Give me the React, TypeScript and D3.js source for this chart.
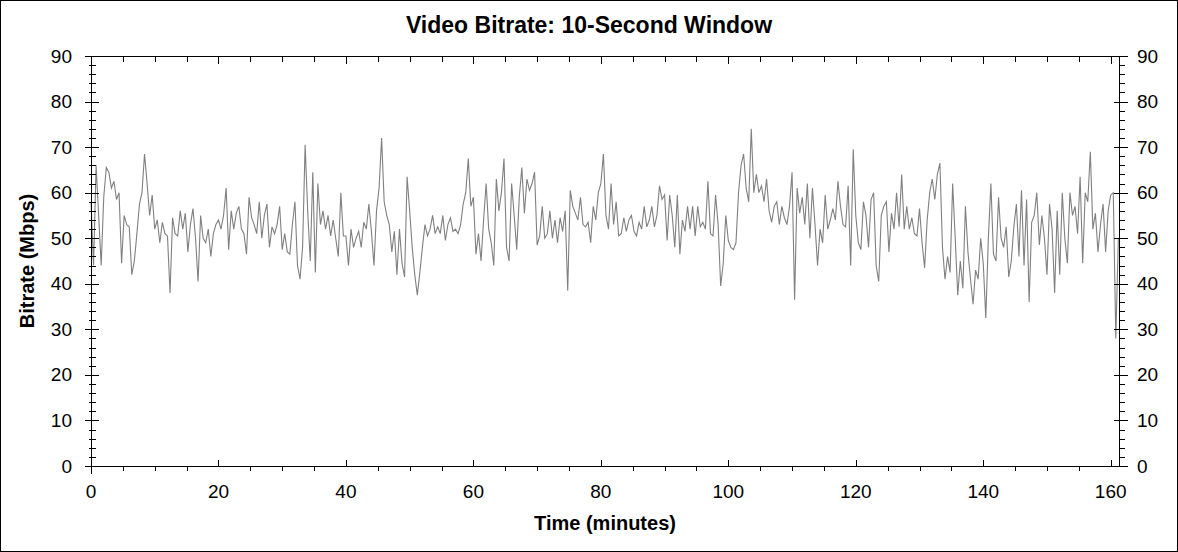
import React, { useEffect, useRef } from "react";
import * as d3 from "d3";

const chartTitle = "Video Bitrate: 10-Second Window";
const xAxisLabel = "Time (minutes)";
const yAxisLabel = "Bitrate (Mbps)";

const xTickLabels = [0, 20, 40, 60, 80, 100, 120, 140, 160];
const yTickLabels = [0, 10, 20, 30, 40, 50, 60, 70, 80, 90];

// one reading every 0.4 min in 20-minute blocks
const sampleStep = 0.4;
const bitrate0 = [58, 44, 66, 55, 44, 59, 65.5, 64.5, 61, 62.5, 58.5, 60, 44.5, 55, 53, 52.5, 42, 45, 51, 57.5, 60, 68.5, 62, 55, 59.5, 52, 54, 49, 53.5, 51, 50.5, 38, 54.5, 51, 50.5, 56, 52, 55.5, 47, 53, 56.5, 50, 40.5, 55, 50, 49, 52, 46, 51, 53];
const bitrate20 = [54, 52, 55, 61, 47.5, 56, 52, 55.5, 57, 52, 51, 46.5, 59, 54.5, 53, 51, 58, 50, 55, 57.5, 48, 52.5, 51, 53, 57, 47.5, 51, 47, 46.5, 53, 58, 44, 41, 48, 70.5, 56, 45, 64.5, 42.5, 62, 53, 56, 52, 55, 50.5, 54, 50, 46, 60, 50.5];
const bitrate40 = [50.5, 44, 52, 48, 50, 51.5, 48, 53.5, 52, 57.5, 51.5, 44, 56, 61, 72, 58, 55, 53, 47, 51.5, 42, 52, 44.5, 41.5, 63.5, 56, 48, 42, 37.5, 42.5, 48, 53, 50.5, 52, 55, 51, 52.5, 51, 55, 49.5, 53, 54.5, 51.5, 52, 51, 53, 57.5, 60, 67.5, 57];
const bitrate60 = [59, 46.5, 51, 45, 54, 62, 52, 49, 44, 63, 56, 60, 67.5, 48, 45, 62, 55, 47.5, 59, 65.5, 55.5, 63, 60.5, 62, 64.5, 48.5, 50.5, 57, 50, 51, 56, 50, 54, 49, 54.5, 51.5, 56, 38.5, 60.5, 57, 55.5, 54, 59, 53, 52.5, 53.5, 49, 57, 54, 60];
const bitrate80 = [62, 68.5, 55, 52, 62, 53, 58, 50.5, 51, 54.5, 51.5, 54, 55, 51.5, 50.5, 53.5, 52, 57, 52.5, 54, 57, 52.5, 55, 61.5, 58.5, 59.5, 49.5, 59.5, 55, 48, 59.5, 46.5, 54, 51.5, 57, 52, 57, 50.5, 57, 52.5, 53.5, 52, 62.5, 51, 50.5, 59.5, 53, 39.5, 44.5, 55];
const bitrate100 = [49.5, 48, 47.5, 49, 60, 66, 68.5, 61, 58, 74, 60, 64, 60, 61.5, 58, 63, 56, 53.5, 57, 58, 53, 57, 54.5, 53, 57, 64.5, 36.5, 61, 55.5, 59, 53, 62, 50, 61, 53, 44, 52, 49, 59.5, 52, 54, 56.5, 54, 62.5, 57, 53, 52.5, 61.5, 44, 69.5];
const bitrate120 = [55, 49, 47.5, 58, 55, 48, 58.5, 60, 44, 40.5, 55, 57, 58, 47, 55.5, 52, 60, 52.5, 64, 52, 57, 52, 54.5, 51, 50.5, 56.5, 49, 43.5, 54, 60, 63, 58.5, 64, 66.5, 48, 41, 46, 42.5, 62, 50, 37.5, 45, 39, 57, 47, 41, 35.5, 43, 41, 50];
const bitrate140 = [44.5, 32.5, 50, 62, 46.5, 45, 59, 50, 48, 52.5, 41.5, 45, 52.5, 57.5, 46, 60.5, 44, 58.5, 36, 53.5, 55, 60, 48.5, 55, 50, 42, 57.5, 52, 38, 56, 42, 60, 50, 44.5, 60, 55, 57, 51, 63.5, 44.5, 60, 58, 69, 52, 55.5, 47, 53, 57.5, 47, 56, 59.5, 60, 28, 50];

const bitrate = [
  ...bitrate0, ...bitrate20, ...bitrate40, ...bitrate60,
  ...bitrate80, ...bitrate100, ...bitrate120, ...bitrate140,
];

const WIDTH = 1178;
const HEIGHT = 552;
const plot = { left: 91, right: 1119, top: 56, bottom: 466 };
const xMax = 161.3;
const yMax = 90;
const font = "'Liberation Sans', Arial, sans-serif";

export default function App() {
  const svgRef = useRef<SVGSVGElement>(null);

  useEffect(() => {
    if (!svgRef.current) return;
    const svg = d3.select(svgRef.current);
    svg.selectAll("*").remove();

    const x = d3.scaleLinear().domain([0, xMax]).range([plot.left, plot.right]);
    const y = d3.scaleLinear().domain([0, yMax]).range([plot.bottom, plot.top]);
    const px = (v: number) => Math.round(v) + 0.5;

    // frame around the picture
    svg.append("rect")
      .attr("x", 0.5).attr("y", 0.5)
      .attr("width", WIDTH - 1).attr("height", HEIGHT - 1)
      .attr("fill", "#fff").attr("stroke", "#000");

    // series
    const line = d3.line<number>()
      .x((_, i) => x(i * sampleStep))
      .y(d => y(d));

    svg.append("path")
      .datum(bitrate)
      .attr("d", line)
      .attr("fill", "none")
      .attr("stroke", "#808080")
      .attr("stroke-width", 1.1);

    // axes box + ticks
    const axes = svg.append("g")
      .attr("stroke", "#000")
      .attr("stroke-width", 1)
      .attr("shape-rendering", "crispEdges");
    const seg = (x1: number, y1: number, x2: number, y2: number) =>
      axes.append("line").attr("x1", x1).attr("y1", y1).attr("x2", x2).attr("y2", y2);

    const L = px(x(0));
    const R = px(x(xMax));
    const T = px(y(yMax));
    const B = px(y(0));

    seg(L, T, L, B + 7);
    seg(R, T, R, B);
    seg(L - 7, T, R + 8, T);
    seg(L - 7, B, R + 8, B);

    d3.range(0, yMax + 1, 2).filter(v => v % 10 !== 0).forEach(v => {
      const yy = px(y(v));
      seg(L - 3, yy, L + 4, yy);
      seg(R, yy, R + 5, yy);
    });
    yTickLabels.forEach(v => {
      const yy = px(y(v));
      seg(L - 7, yy, L + 7, yy);
      seg(R - 6, yy, R + 8, yy);
    });
    d3.range(0, xMax, 5).filter(v => v % 20 !== 0).forEach(v => {
      const xx = px(x(v));
      seg(xx, B, xx, B + 4);
      seg(xx, T, xx, T + 5);
    });
    xTickLabels.forEach(v => {
      const xx = px(x(v));
      seg(xx, B - 7, xx, B);
      seg(xx, T, xx, T + 7);
    });

    // tick labels
    const labels = svg.append("g")
      .attr("font-family", font)
      .attr("font-size", 19)
      .attr("fill", "#000");

    yTickLabels.forEach(v => {
      labels.append("text")
        .attr("x", 72).attr("y", y(v) + 6.5)
        .attr("text-anchor", "end")
        .text(v);
      labels.append("text")
        .attr("x", 1137).attr("y", y(v) + 6.5)
        .attr("text-anchor", "start")
        .text(v);
    });
    xTickLabels.forEach(v => {
      labels.append("text")
        .attr("x", x(v)).attr("y", 498)
        .attr("text-anchor", "middle")
        .text(v);
    });

    // titles
    svg.append("text")
      .attr("x", WIDTH / 2).attr("y", 33)
      .attr("text-anchor", "middle")
      .attr("font-family", font)
      .attr("font-size", 23)
      .attr("font-weight", "bold")
      .text(chartTitle);

    svg.append("text")
      .attr("x", (plot.left + plot.right) / 2).attr("y", 530)
      .attr("text-anchor", "middle")
      .attr("font-family", font)
      .attr("font-size", 20)
      .attr("font-weight", "bold")
      .text(xAxisLabel);

    svg.append("text")
      .attr("transform", `translate(34,${(plot.top + plot.bottom) / 2}) rotate(-90)`)
      .attr("text-anchor", "middle")
      .attr("font-family", font)
      .attr("font-size", 20)
      .attr("font-weight", "bold")
      .text(yAxisLabel);
  }, []);

  return (
    <svg
      ref={svgRef}
      width={WIDTH}
      height={HEIGHT}
      style={{ position: "absolute", left: 0, top: 0, background: "#fff" }}
    />
  );
}
